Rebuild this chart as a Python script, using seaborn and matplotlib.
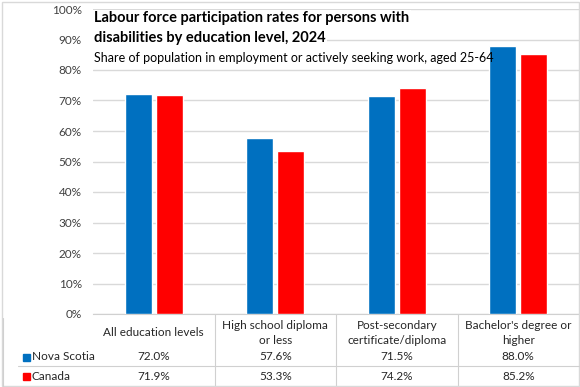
import numpy as np
import pandas as pd
import seaborn as sns
from matplotlib import pyplot as plt
from matplotlib.ticker import PercentFormatter
from matplotlib.transforms import blended_transform_factory
from matplotlib.lines import Line2D
from matplotlib.patches import Rectangle

categories = ["All education levels", "High school diploma\nor less",
              "Post-secondary\ncertificate/diploma", "Bachelor's degree or\nhigher"]
nova_scotia = [72.0, 57.6, 71.5, 88.0]
canada = [71.9, 53.3, 74.2, 85.2]
series_names = ["Nova Scotia", "Canada"]
colors = ["#0070C0", "#FF0000"]
title_lines = ["Labour force participation rates for persons with",
               "disabilities by education level, 2024"]
subtitle = "Share of population in employment or actively seeking work, aged 25-64"

df = pd.DataFrame({
    "category": categories * 2,
    "region": [series_names[0]] * 4 + [series_names[1]] * 4,
    "value": [v / 100 for v in nova_scotia + canada],
})

sns.set_style("white")
plt.rcParams['font.family'] = ['Lato', 'DejaVu Sans']

W, H = 580, 387
fig = plt.figure(figsize=(5.8, 3.87), dpi=100)
ax = fig.add_axes([93 / W, 1 - 314 / H, (579 - 93) / W, (314 - 9) / H])

sns.barplot(data=df, x="category", y="value", hue="region", palette=colors,
            width=0.51, gap=0.13, saturation=1, legend=False, ax=ax, zorder=3)

ax.set_ylim(0, 1)
ax.set_xlim(-0.5, 3.5)
ax.yaxis.set_major_formatter(PercentFormatter(1.0, decimals=0))
ax.set_yticks(np.arange(0, 1.01, 0.1))
ax.tick_params(axis="y", length=0, labelsize=8.5, labelcolor="#404040", pad=8)
ax.set_xticks([])
ax.set_xlabel("")
ax.set_ylabel("")
ax.grid(axis="y", color="#d9d9d9", linewidth=1, zorder=0)
for s in ["top", "right", "left"]:
    ax.spines[s].set_visible(False)
ax.spines["bottom"].set_color("#d0d0d0")

# title and subtitle
for k, line in enumerate(title_lines):
    fig.text(94 / W, 1 - (18 + 20 * k) / H, line, fontsize=10.5, fontweight="bold",
             color="black", va="center", ha="left",
             bbox=dict(facecolor="white", edgecolor="none", pad=1), zorder=5)
fig.text(94 / W, 1 - 58 / H, subtitle, fontsize=9, color="black", va="center", ha="left")

# data table under the axis
tr = blended_transform_factory(ax.transData, fig.transFigure)
line_color = "#d0d0d0"
for i, cat in enumerate(categories):
    ax.text(i, 1 - 333 / H, cat, transform=tr, ha="center", va="center",
            fontsize=8.5, color="#262626", linespacing=1.5)
    ax.text(i, 1 - 357 / H, f"{nova_scotia[i]:.1f}%", transform=tr, ha="center", va="center",
            fontsize=8.5, color="#262626")
    ax.text(i, 1 - 376 / H, f"{canada[i]:.1f}%", transform=tr, ha="center", va="center",
            fontsize=8.5, color="#262626")

for b in [0.5, 1.5, 2.5]:
    ax.add_line(Line2D([b, b], [1 - 314 / H, 1 - 386 / H], transform=tr,
                       color=line_color, linewidth=0.8, clip_on=False))

fig.add_artist(Line2D([18 / W, 579 / W], [1 - 366 / H, 1 - 366 / H], color=line_color, linewidth=0.8))
fig.add_artist(Line2D([3 / W, 3 / W], [1 - 318 / H, 1 - 386 / H], color=line_color, linewidth=0.8))

for j, name in enumerate(series_names):
    y = 1 - (357 + 19 * j) / H
    fig.add_artist(Rectangle((23 / W, y - 3.5 / H), 7 / W, 7 / H, color=colors[j]))
    fig.text(32 / W, y, name, fontsize=8.5, color="#262626", va="center", ha="left")

# chart border
fig.add_artist(Rectangle((1.5 / W, 1.5 / H), (W - 3) / W, (H - 3) / H, fill=False,
                         edgecolor="#d9d9d9", linewidth=1))

fig.savefig("out.png", dpi=100)
